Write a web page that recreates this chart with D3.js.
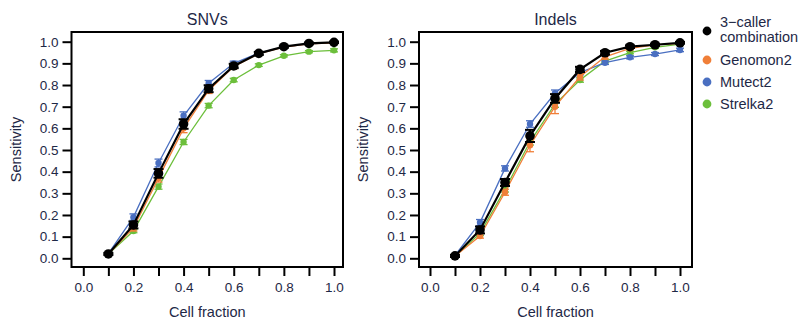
<!DOCTYPE html>
<html>
<head>
<meta charset="utf-8">
<script src="https://cdn.jsdelivr.net/npm/d3@7"></script>
<style>
  body { margin: 0; background: #fff; }
  svg { font-family: "Liberation Sans", Arial, sans-serif; }
</style>
</head>
<body>
<div id="chart"></div>
<script>
// cell fractions on the x axis
var fractions = [0.1, 0.2, 0.3, 0.4, 0.5, 0.6, 0.7, 0.8, 0.9, 1.0];
var xTicks = [0.0, 0.2, 0.4, 0.6, 0.8, 1.0];
var xTickMarks = [0.0, 0.1, 0.2, 0.3, 0.4, 0.5, 0.6, 0.7, 0.8, 0.9, 1.0];
var yTicks = [0.0, 0.1, 0.2, 0.3, 0.4, 0.5, 0.6, 0.7, 0.8, 0.9, 1.0];

var callers = ["3\u2212caller combination", "Genomon2", "Mutect2", "Strelka2"];
var colors = ["#000000", "#f07f38", "#4a6fc1", "#6cbf3b"];

// SNVs sensitivity (mean) and error
var snvCombo = [0.02, 0.154, 0.392, 0.62, 0.783, 0.888, 0.946, 0.977, 0.992, 0.997];
var snvGenomon = [0.02, 0.14, 0.37, 0.60, 0.775, 0.885, 0.945, 0.975, 0.99, 0.995];
var snvMutect = [0.022, 0.19, 0.44, 0.658, 0.808, 0.9, 0.947, 0.976, 0.99, 0.996];
var snvStrelka = [0.02, 0.126, 0.331, 0.537, 0.705, 0.823, 0.892, 0.935, 0.954, 0.96];
var snvComboErr = [0.005, 0.016, 0.02, 0.022, 0.016, 0.01, 0.007, 0.005, 0.004, 0.003];
var snvGenomonErr = [0.004, 0.014, 0.018, 0.02, 0.014, 0.01, 0.006, 0.005, 0.004, 0.003];
var snvMutectErr = [0.004, 0.015, 0.018, 0.018, 0.013, 0.01, 0.006, 0.004, 0.003, 0.003];
var snvStrelkaErr = [0.003, 0.008, 0.012, 0.012, 0.01, 0.008, 0.006, 0.005, 0.005, 0.007];

// Indels sensitivity (mean) and error
var indelCombo = [0.011, 0.131, 0.35, 0.565, 0.738, 0.872, 0.949, 0.977, 0.986, 0.995];
var indelGenomon = [0.01, 0.103, 0.305, 0.522, 0.70, 0.838, 0.93, 0.969, 0.985, 0.992];
var indelMutect = [0.013, 0.165, 0.415, 0.62, 0.762, 0.857, 0.903, 0.928, 0.943, 0.962];
var indelStrelka = [0.01, 0.115, 0.318, 0.538, 0.712, 0.823, 0.91, 0.95, 0.974, 0.989];
var indelComboErr = [0.005, 0.016, 0.016, 0.028, 0.02, 0.012, 0.008, 0.006, 0.005, 0.004];
var indelGenomonErr = [0.004, 0.01, 0.014, 0.03, 0.032, 0.015, 0.01, 0.006, 0.005, 0.004];
var indelMutectErr = [0.004, 0.014, 0.012, 0.015, 0.015, 0.01, 0.008, 0.007, 0.007, 0.008];
var indelStrelkaErr = [0.003, 0.01, 0.012, 0.015, 0.015, 0.01, 0.008, 0.006, 0.005, 0.005];

var width = 805, height = 321;
var textColor = "#1e2846";

var svg = d3.select("#chart").append("svg")
  .attr("width", width)
  .attr("height", height);

// panel boxes and scale ranges
var panels = [
  {
    title: "SNVs",
    box: { x0: 71.5, x1: 343, y0: 32, y1: 267 },
    xr: [83.3, 334],
    means: [snvStrelka, snvMutect, snvGenomon, snvCombo],
    errs: [snvStrelkaErr, snvMutectErr, snvGenomonErr, snvComboErr],
    order: [3, 2, 1, 0]
  },
  {
    title: "Indels",
    box: { x0: 419, x1: 692, y0: 32, y1: 267 },
    xr: [430, 680],
    means: [indelStrelka, indelMutect, indelGenomon, indelCombo],
    errs: [indelStrelkaErr, indelMutectErr, indelGenomonErr, indelComboErr],
    order: [3, 2, 1, 0]
  }
];

panels.forEach(function (p) {
  var x = d3.scaleLinear().domain([0, 1]).range(p.xr);
  var y = d3.scaleLinear().domain([0, 1]).range([258.3, 41.7]);
  var g = svg.append("g");

  // box
  g.append("rect")
    .attr("x", p.box.x0).attr("y", p.box.y0)
    .attr("width", p.box.x1 - p.box.x0)
    .attr("height", p.box.y1 - p.box.y0)
    .attr("fill", "none")
    .attr("stroke", "#000")
    .attr("stroke-width", 2);

  // y axis
  var yAxis = d3.axisLeft(y).tickValues(yTicks).tickSize(9).tickPadding(4)
    .tickFormat(d3.format(".1f"));
  var ya = g.append("g").attr("transform", "translate(" + p.box.x0 + ",0)").call(yAxis);
  ya.select(".domain").remove();
  ya.selectAll("line").attr("stroke", "#000").attr("stroke-width", 2);
  ya.selectAll("text").attr("fill", textColor).style("font-size", "13.5px")
    .style("font-family", "'Liberation Sans', Arial, sans-serif");

  // x axis
  var xAxis = d3.axisBottom(x).tickValues(xTickMarks).tickSize(9).tickPadding(6)
    .tickFormat(function (d) {
      return xTicks.some(function (t) { return Math.abs(t - d) < 1e-9; }) ? d3.format(".1f")(d) : "";
    });
  var xa = g.append("g").attr("transform", "translate(0," + p.box.y1 + ")").call(xAxis);
  xa.select(".domain").remove();
  xa.selectAll("line").attr("stroke", "#000").attr("stroke-width", 2);
  xa.selectAll("text").attr("fill", textColor).style("font-size", "13.5px")
    .style("font-family", "'Liberation Sans', Arial, sans-serif");

  // titles
  g.append("text")
    .attr("x", (p.box.x0 + p.box.x1) / 2).attr("y", 25)
    .attr("text-anchor", "middle")
    .attr("fill", textColor)
    .style("font-size", "16px")
    .text(p.title);
  g.append("text")
    .attr("x", (p.box.x0 + p.box.x1) / 2).attr("y", 317)
    .attr("text-anchor", "middle")
    .attr("fill", textColor)
    .style("font-size", "14.5px")
    .text("Cell fraction");
  g.append("text")
    .attr("transform", "translate(" + (p.box.x0 - 51) + "," + ((p.box.y0 + p.box.y1) / 2) + ") rotate(-90)")
    .attr("text-anchor", "middle")
    .attr("fill", textColor)
    .style("font-size", "14.5px")
    .text("Sensitivity");

  // series: green, blue, orange, black
  p.means.forEach(function (vals, i) {
    var ci = p.order[i];
    var col = colors[ci];
    var isBlack = ci === 0;
    var pts = fractions.map(function (f, k) {
      return { x: f, y: vals[k], e: p.errs[i][k] };
    });
    var sg = g.append("g");
    sg.append("path")
      .datum(pts)
      .attr("fill", "none")
      .attr("stroke", col)
      .attr("stroke-width", isBlack ? 2.2 : 1.3)
      .attr("d", d3.line().x(function (d) { return x(d.x); }).y(function (d) { return y(d.y); }));

    var cap = isBlack ? 5 : 4;
    var eb = sg.selectAll(".eb").data(pts).join("g");
    eb.append("line")
      .attr("x1", function (d) { return x(d.x); })
      .attr("x2", function (d) { return x(d.x); })
      .attr("y1", function (d) { return y(d.y - d.e); })
      .attr("y2", function (d) { return y(d.y + d.e); })
      .attr("stroke", col).attr("stroke-width", isBlack ? 2 : 1.3);
    [-1, 1].forEach(function (s) {
      eb.append("line")
        .attr("x1", function (d) { return x(d.x) - cap; })
        .attr("x2", function (d) { return x(d.x) + cap; })
        .attr("y1", function (d) { return y(d.y + s * d.e); })
        .attr("y2", function (d) { return y(d.y + s * d.e); })
        .attr("stroke", col).attr("stroke-width", isBlack ? 2 : 1.3);
    });
    sg.selectAll("circle").data(pts).join("circle")
      .attr("cx", function (d) { return x(d.x); })
      .attr("cy", function (d) { return y(d.y); })
      .attr("r", isBlack ? 4.8 : 3.2)
      .attr("fill", col);
  });
});

// legend
var legendY = [31, 60, 82, 104];
var legend = svg.append("g");
callers.forEach(function (name, i) {
  legend.append("circle")
    .attr("cx", 707).attr("cy", legendY[i]).attr("r", 4.4)
    .attr("fill", colors[i]);
  if (i === 0) {
    legend.append("text").attr("x", 720).attr("y", 27)
      .attr("fill", textColor).style("font-size", "14.5px").text("3\u2212caller");
    legend.append("text").attr("x", 720).attr("y", 41.5)
      .attr("fill", textColor).style("font-size", "14.5px").text("combination");
  } else {
    legend.append("text").attr("x", 720).attr("y", legendY[i] + 5)
      .attr("fill", textColor).style("font-size", "14.5px").text(name);
  }
});
</script>
</body>
</html>
